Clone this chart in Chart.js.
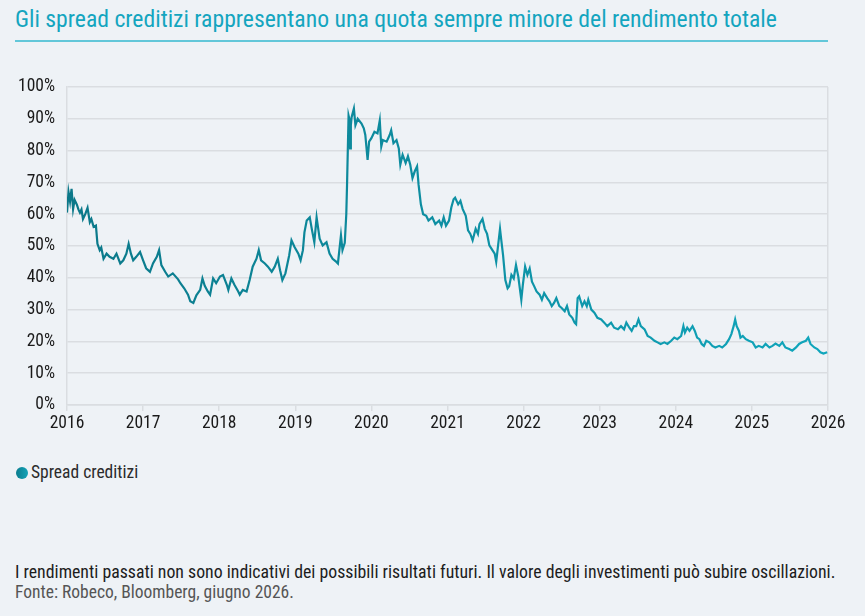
<!DOCTYPE html>
<html lang="it">
<head>
<meta charset="utf-8">
<title>Spread creditizi</title>
<script src="https://cdn.jsdelivr.net/npm/chart.js@4"></script>
<style>
    html, body { margin: 0; padding: 0; }
    body {
        width: 865px; height: 616px; position: relative; overflow: hidden;
        background: #eef2f6;
        font-family: "Liberation Sans Narrow", "Roboto Condensed", Roboto, sans-serif;
    }
    #title {
        position: absolute; left: 15px; top: 5px; white-space: nowrap;
        font-size: 23.7px; color: #14a5bf;
    }
    #rule { position: absolute; left: 15px; top: 40px; width: 813px; height: 2px; background: #62c7d9; }
    #chart-box { position: absolute; left: 0; top: 60px; width: 865px; height: 380px; }
    #legend { position: absolute; left: 16px; top: 462px; font-size: 17.5px; color: #2b2b2b; white-space: nowrap; }
    #legend .dot {
        display: inline-block; width: 12px; height: 12px; border-radius: 50%;
        background: linear-gradient(90deg, #0b7d8e, #13a3b8); vertical-align: -1px; margin-right: 3px;
    }
    .note { position: absolute; left: 15px; white-space: nowrap; }
    #note1 { top: 561px; font-size: 17.8px; color: #1c1c1c; }
    #note2 { top: 582px; font-size: 17.5px; color: #555; }
</style>
</head>
<body>
<div id="title">Gli spread creditizi rappresentano una quota sempre minore del rendimento totale</div>
<div id="rule"></div>
<div id="chart-box"><canvas id="spread-chart"></canvas></div>
<div id="legend"><span class="dot"></span>Spread creditizi</div>
<div class="note" id="note1">I rendimenti passati non sono indicativi dei possibili risultati futuri. Il valore degli investimenti può subire oscillazioni.</div>
<div class="note" id="note2">Fonte: Robeco, Bloomberg, giugno 2026.</div>

<script>
// Dati (anno decimale, % del rendimento totale)
const seriesLabel = 'Spread creditizi';
const yearTicks = [2016, 2017, 2018, 2019, 2020, 2021, 2022, 2023, 2024, 2025, 2026];

const dates = [
    2016.00, 2016.02, 2016.04, 2016.06, 2016.08, 2016.10, 2016.13, 2016.15, 2016.17, 2016.19,
    2016.21, 2016.24, 2016.27, 2016.30, 2016.32, 2016.35, 2016.38, 2016.40, 2016.43, 2016.45,
    2016.48, 2016.52, 2016.56, 2016.61, 2016.65, 2016.70, 2016.74, 2016.78, 2016.81, 2016.84,
    2016.87, 2016.91, 2016.96, 2017.00, 2017.04, 2017.09, 2017.13, 2017.18, 2017.21, 2017.24,
    2017.29, 2017.33, 2017.39, 2017.46, 2017.49, 2017.54, 2017.59, 2017.62, 2017.66, 2017.70,
    2017.75, 2017.78, 2017.81, 2017.85, 2017.88, 2017.92, 2017.96, 2018.01, 2018.05, 2018.10,
    2018.12, 2018.16, 2018.20, 2018.25, 2018.27, 2018.31, 2018.36, 2018.40, 2018.44, 2018.49,
    2018.52, 2018.55, 2018.60, 2018.64, 2018.69, 2018.73, 2018.77, 2018.80, 2018.83, 2018.87,
    2018.92, 2018.95, 2018.99, 2019.04, 2019.07, 2019.10, 2019.12, 2019.15, 2019.19, 2019.22,
    2019.25, 2019.28, 2019.32, 2019.36, 2019.41, 2019.45, 2019.49, 2019.54, 2019.56, 2019.60,
    2019.62, 2019.65, 2019.67, 2019.68, 2019.70, 2019.71, 2019.72, 2019.73, 2019.74, 2019.77,
    2019.79, 2019.82, 2019.87, 2019.90, 2019.92, 2019.95, 2019.97, 2020.00, 2020.04, 2020.08,
    2020.11, 2020.13, 2020.15, 2020.20, 2020.24, 2020.26, 2020.29, 2020.33, 2020.36, 2020.38,
    2020.41, 2020.45, 2020.48, 2020.51, 2020.54, 2020.57, 2020.60, 2020.62, 2020.65, 2020.68,
    2020.72, 2020.75, 2020.80, 2020.84, 2020.89, 2020.92, 2020.95, 2020.98, 2021.02, 2021.05,
    2021.08, 2021.10, 2021.14, 2021.17, 2021.20, 2021.24, 2021.27, 2021.30, 2021.33, 2021.37,
    2021.40, 2021.42, 2021.46, 2021.49, 2021.52, 2021.55, 2021.59, 2021.62, 2021.64, 2021.66,
    2021.69, 2021.71, 2021.73, 2021.76, 2021.79, 2021.81, 2021.84, 2021.87, 2021.90, 2021.93,
    2021.97, 2021.99, 2022.02, 2022.05, 2022.08, 2022.11, 2022.14, 2022.17, 2022.21, 2022.24,
    2022.27, 2022.31, 2022.34, 2022.37, 2022.40, 2022.43, 2022.47, 2022.50, 2022.54, 2022.57,
    2022.60, 2022.64, 2022.67, 2022.69, 2022.71, 2022.73, 2022.77, 2022.80, 2022.83, 2022.85,
    2022.89, 2022.93, 2022.97, 2023.02, 2023.06, 2023.10, 2023.15, 2023.19, 2023.24, 2023.28,
    2023.32, 2023.35, 2023.39, 2023.42, 2023.45, 2023.48, 2023.51, 2023.54, 2023.59, 2023.63,
    2023.67, 2023.72, 2023.76, 2023.80, 2023.85, 2023.89, 2023.94, 2023.98, 2024.02, 2024.07,
    2024.10, 2024.12, 2024.15, 2024.18, 2024.22, 2024.25, 2024.28, 2024.31, 2024.34, 2024.37,
    2024.40, 2024.44, 2024.48, 2024.52, 2024.57, 2024.61, 2024.66, 2024.70, 2024.73, 2024.76,
    2024.78, 2024.80, 2024.83, 2024.85, 2024.88, 2024.92, 2024.96, 2025.01, 2025.05, 2025.09,
    2025.14, 2025.18, 2025.23, 2025.27, 2025.31, 2025.36, 2025.40, 2025.44, 2025.49, 2025.53,
    2025.58, 2025.62, 2025.66, 2025.71, 2025.74, 2025.77, 2025.82, 2025.86, 2025.90, 2025.94,
    2025.99
];

const spreadShare = [
    60.5, 67.0, 64.0, 68.0, 61.6, 64.5, 63.0, 61.5, 60.5, 61.5,
    58.5, 60.0, 62.0, 57.5, 58.5, 56.0, 56.4, 50.7, 48.7, 49.5,
    46.0, 47.6, 46.6, 46.0, 47.6, 44.5, 45.5, 47.6, 50.7, 47.6,
    45.5, 46.6, 48.1, 45.5, 43.0, 41.9, 44.5, 46.6, 48.7, 44.0,
    41.9, 40.4, 41.4, 39.5, 38.3, 36.7, 34.7, 32.6, 32.1, 34.5,
    36.2, 39.8, 37.5, 35.7, 34.7, 39.8, 38.3, 40.4, 40.9, 37.8,
    36.2, 39.8, 37.8, 35.7, 34.7, 36.2, 35.7, 39.3, 43.5, 46.0,
    48.7, 45.5, 44.5, 43.5, 41.9, 43.5, 46.0, 42.4, 39.3, 41.4,
    47.1, 51.8, 49.7, 47.6, 45.5, 48.7, 54.3, 58.0, 59.0, 54.9,
    51.2, 59.0, 52.3, 50.2, 51.2, 47.6, 46.0, 45.0, 44.5, 53.3,
    48.7, 51.0, 60.0, 69.3, 91.0, 90.0, 80.7, 88.0, 90.5, 93.2,
    88.0, 90.0, 88.5, 87.0, 84.9, 77.1, 82.8, 83.9, 85.9, 85.4,
    89.5, 81.3, 83.3, 82.8, 84.9, 86.4, 82.3, 83.3, 80.7, 75.6,
    78.7, 76.1, 78.2, 75.6, 71.4, 73.5, 75.0, 69.3, 63.1, 60.0,
    59.5, 58.0, 59.0, 56.9, 58.0, 56.4, 59.0, 56.4, 58.0, 62.1,
    64.7, 65.2, 63.1, 64.2, 61.6, 59.5, 54.9, 53.8, 51.8, 55.4,
    53.8, 56.9, 58.5, 55.4, 53.8, 50.2, 48.7, 47.6, 45.0, 49.2,
    55.4, 51.2, 47.1, 39.3, 36.7, 37.3, 40.9, 39.8, 44.0, 40.4,
    33.1, 37.8, 43.5, 40.9, 42.9, 38.8, 37.3, 35.7, 34.7, 33.1,
    35.2, 33.6, 32.6, 31.1, 32.1, 33.6, 31.1, 30.5, 29.5, 31.1,
    28.5, 27.4, 25.9, 25.4, 33.6, 34.2, 31.1, 32.6, 31.1, 33.1,
    30.0, 29.0, 27.4, 26.9, 25.9, 24.8, 25.9, 24.3, 23.8, 24.8,
    23.8, 25.9, 24.3, 23.3, 24.8, 24.8, 26.9, 24.8, 23.8, 21.7,
    21.2, 20.2, 19.7, 19.2, 19.7, 19.2, 20.2, 21.2, 20.7, 21.7,
    24.8, 22.8, 24.3, 23.3, 24.8, 23.3, 21.2, 20.7, 19.2, 18.6,
    20.2, 19.7, 18.6, 18.1, 18.6, 18.1, 19.2, 20.7, 22.3, 24.8,
    26.9, 24.8, 23.3, 21.2, 21.7, 20.7, 20.2, 19.7, 18.1, 18.6,
    18.1, 19.2, 18.1, 18.6, 19.3, 18.6, 19.7, 18.1, 17.6, 17.1,
    18.1, 19.2, 19.7, 20.2, 21.2, 19.2, 18.1, 17.6, 16.6, 16.2,
    16.6
];

const FONT = '"Liberation Sans Narrow", "Roboto Condensed", Roboto, sans-serif';
const GRID = '#dadde1';

// colore della linea: da petrolio scuro a sinistra a turchese a destra
function lineGradient(context) {
    const area = context.chart.chartArea;
    if (!area) return '#0f8fa2';
    const g = context.chart.ctx.createLinearGradient(area.left, 0, area.right, 0);
    g.addColorStop(0, '#0b7889');
    g.addColorStop(1, '#10a6bc');
    return g;
}

document.addEventListener('DOMContentLoaded', () => {
    const ctx = document.getElementById('spread-chart').getContext('2d');
    new Chart(ctx, {
        type: 'line',
        data: {
            datasets: [{
                label: seriesLabel,
                data: dates.map((d, i) => ({ x: d, y: spreadShare[i] })),
                borderColor: lineGradient,
                borderWidth: 2.2,
                pointRadius: 0,
                tension: 0,
                fill: false
            }]
        },
        options: {
            responsive: true,
            maintainAspectRatio: false,
            animation: false,
            layout: { padding: { top: 27, right: 37, left: 0, bottom: 0 } },
            plugins: { legend: { display: false }, tooltip: { enabled: false } },
            scales: {
                x: {
                    type: 'linear',
                    min: 2016,
                    max: 2026,
                    afterBuildTicks: scale => { scale.ticks = yearTicks.map(v => ({ value: v })); },
                    afterFit: scale => { scale.height = 35; },
                    grid: {
                        color: c => (c.tick && c.tick.value === 2026) ? GRID : 'rgba(0,0,0,0)',
                        tickColor: GRID,
                        lineWidth: 1.5,
                        tickLength: 6
                    },
                    border: { display: true, color: GRID, width: 1.5 },
                    ticks: {
                        color: '#1a1a1a',
                        font: { family: FONT, size: 17.5 },
                        padding: 2,
                        maxRotation: 0,
                        callback: v => String(v)
                    }
                },
                y: {
                    min: 0,
                    max: 100,
                    afterFit: scale => { scale.width = 67; },
                    grid: { color: GRID, lineWidth: 1.5, drawTicks: false },
                    border: { display: true, color: GRID, width: 1.5 },
                    ticks: {
                        stepSize: 10,
                        color: '#1a1a1a',
                        font: { family: FONT, size: 17.5 },
                        padding: 12,
                        callback: v => v + '%'
                    }
                }
            }
        }
    });
});
</script>
</body>
</html>
